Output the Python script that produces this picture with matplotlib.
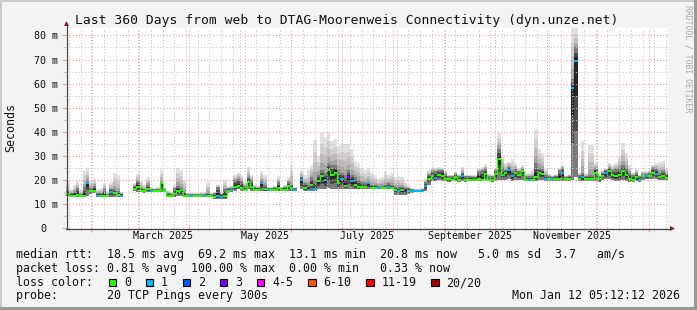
import numpy as np
import pandas as pd
import matplotlib

matplotlib.use("Agg")
import matplotlib.pyplot as plt
import matplotlib.dates as mdates
import matplotlib.transforms as mtransforms
from matplotlib.patches import Rectangle, Polygon
from matplotlib.lines import Line2D

nan = float("nan")

W, H = 697, 310
START = pd.Timestamp("2025-01-17 05:12:12")
END = pd.Timestamp("2026-01-12 05:12:12")
STEP_DAYS = 2  # one sample per two days

# median rtt (ms), one value per 2-day column
median_ms = [
    14.0, 13.5, 13.5, 13.6, 13.2, 13.3, 18.8, 15.2, 15.5, 13.5,
    13.3, 13.5, 13.3, 15.0, 14.5, 13.6, 13.5, nan, nan, nan,
    16.3, 17.0, 15.3, 15.2, 16.0, 15.3, 15.3, 15.3, 18.5, 15.3,
    13.5, 13.4, 14.0, 15.5, 15.8, 13.5, 13.4, 13.4, 13.4, 13.4,
    13.3, 13.2, 13.3, 13.3, 13.0, 13.5, 12.8, 13.2, 15.5, 15.8,
    17.2, 17.6, 16.8, 15.8, 19.3, 17.0, 15.9, 15.9, 18.5, 16.0,
    15.9, 15.9, 15.9, 16.5, 15.9, 15.9, 17.5, 16.8, 15.9, nan,
    20.0, 16.7, 15.9, 18.0, 16.0, 19.5, 21.4, 20.0, 24.2, 22.0,
    23.0, 18.7, 20.5, 17.5, 21.2, 19.5, 17.8, 17.0, 17.0, 17.0,
    18.5, 16.7, 16.7, 16.5, 16.5, 16.7, 17.2, 16.5, 15.8, 15.5,
    15.6, 15.5, 15.3, 15.3, 15.3, 15.3, 15.4, 17.5, 20.5, 21.5,
    20.8, 22.0, 21.8, 20.5, 20.2, 20.0, 21.0, 20.0, 21.5, 20.0,
    20.0, 20.0, 20.0, 20.5, 20.0, 22.4, 20.0, 20.0, 22.5, 28.6,
    22.0, 22.8, 24.0, 21.5, 22.8, 22.0, 23.5, 20.0, 20.0, 20.0,
    21.0, 22.8, 22.5, 20.3, 20.3, 20.3, 20.3, 20.3, 22.8, 20.3,
    20.3, 58.0, 69.2, 20.3, 21.0, 20.3, 20.3, 20.3, 23.0, 20.3,
    21.5, 22.7, 23.5, 22.0, 21.5, 22.0, 23.5, 22.0, 20.5, 20.0,
    21.0, 20.0, 21.5, 21.5, 21.7, 22.8, 22.5, 21.0, 21.5, 20.8,
]

# smoke: lowest ping, top of the dense (dark) part, highest ping (ms)
smoke_lo_ms = [
    13.3, 13.0, 13.0, 13.0, 12.8, 12.8, 13.5, 14.0, 14.5, 13.0,
    12.8, 13.0, 12.8, 13.0, 13.0, 13.0, 13.0, nan, nan, nan,
    15.5, 15.0, 14.8, 14.7, 14.8, 14.8, 14.8, 14.8, 15.0, 14.8,
    13.0, 13.0, 13.0, 13.2, 13.2, 13.0, 13.0, 13.0, 13.0, 13.0,
    12.9, 12.8, 12.9, 12.9, 12.0, 12.0, 12.0, 12.0, 14.5, 15.0,
    15.5, 16.0, 15.5, 15.2, 16.0, 15.5, 15.3, 15.3, 15.5, 15.3,
    15.3, 15.3, 15.3, 15.3, 15.3, 15.3, 15.5, 15.5, 15.3, nan,
    16.0, 15.5, 15.5, 15.5, 15.5, 16.0, 16.0, 16.0, 16.5, 16.0,
    16.0, 16.0, 16.0, 16.0, 16.0, 16.0, 16.0, 16.0, 16.3, 16.3,
    16.3, 16.0, 16.0, 16.0, 16.0, 16.0, 16.0, 16.0, 13.8, 13.8,
    13.8, 13.8, 14.0, 14.5, 14.8, 14.8, 14.8, 15.3, 18.0, 19.5,
    19.5, 20.0, 19.5, 19.5, 19.3, 19.5, 19.5, 19.3, 19.5, 19.3,
    19.5, 19.5, 19.5, 19.5, 19.5, 20.0, 19.5, 19.0, 19.5, 20.0,
    20.0, 20.0, 20.5, 19.5, 20.0, 20.0, 20.0, 19.5, 19.5, 19.5,
    19.5, 20.0, 20.0, 19.5, 19.5, 19.5, 19.5, 19.5, 19.5, 19.5,
    19.5, 20.0, 21.0, 19.5, 19.5, 19.5, 19.5, 19.5, 19.5, 19.0,
    20.0, 20.5, 20.5, 20.0, 19.5, 19.5, 20.0, 19.5, 19.0, 19.0,
    19.5, 19.0, 20.0, 20.5, 20.5, 20.5, 20.5, 20.0, 20.0, 20.0,
]

smoke_mid_ms = [
    15.5, 14.5, 15.0, 16.5, 14.0, 17.0, 19.5, 16.5, 17.5, 14.5,
    14.5, 16.0, 14.0, 16.0, 16.0, 15.5, 14.2, nan, nan, nan,
    17.5, 19.5, 16.5, 16.0, 18.0, 16.2, 16.0, 16.2, 19.0, 16.2,
    14.5, 14.2, 16.5, 17.5, 16.7, 15.0, 14.0, 14.0, 14.0, 14.0,
    14.0, 14.0, 14.5, 14.0, 14.5, 17.0, 14.0, 16.0, 16.5, 16.8,
    20.0, 20.5, 19.5, 17.5, 21.0, 20.0, 17.0, 16.8, 19.5, 18.0,
    16.5, 16.5, 16.8, 19.0, 16.5, 17.0, 19.0, 18.0, 16.5, nan,
    21.0, 18.5, 18.0, 21.0, 20.0, 22.0, 24.0, 23.0, 27.0, 26.0,
    26.0, 24.0, 23.0, 22.0, 24.0, 22.0, 21.0, 20.0, 19.0, 18.5,
    19.0, 18.0, 18.0, 17.5, 17.5, 18.0, 18.5, 18.0, 17.0, 17.0,
    17.0, 16.5, 16.5, 16.0, 15.8, 15.8, 16.0, 19.0, 22.0, 23.5,
    23.5, 24.0, 24.0, 22.5, 21.5, 21.5, 22.5, 21.5, 23.0, 21.5,
    21.5, 21.3, 21.3, 23.5, 24.0, 24.5, 21.5, 21.5, 24.0, 33.0,
    25.0, 24.0, 25.5, 23.5, 24.5, 23.5, 24.5, 21.5, 21.5, 21.5,
    27.0, 25.0, 24.5, 22.0, 21.5, 21.3, 21.5, 24.0, 25.0, 21.3,
    21.5, 62.0, 75.0, 22.0, 23.0, 21.5, 22.0, 22.0, 25.0, 21.5,
    23.0, 24.0, 25.0, 24.0, 24.5, 25.0, 26.0, 25.0, 23.0, 22.0,
    23.0, 21.5, 22.5, 22.5, 23.0, 25.0, 24.5, 23.0, 23.5, 22.5,
]

smoke_hi_ms = [
    19.5, 16.0, 18.0, 19.5, 16.0, 24.0, 25.0, 19.5, 20.5, 16.0,
    16.5, 18.8, 15.5, 19.0, 23.0, 22.0, 15.0, nan, nan, nan,
    18.5, 22.5, 19.5, 18.0, 21.0, 17.0, 16.5, 17.0, 24.0, 17.0,
    15.5, 15.0, 18.0, 25.0, 24.0, 20.0, 14.5, 14.5, 14.5, 14.5,
    15.0, 15.0, 19.0, 14.5, 15.0, 18.0, 15.5, 20.0, 17.0, 17.5,
    22.0, 23.0, 22.0, 19.0, 25.5, 22.0, 18.0, 17.5, 23.5, 22.0,
    17.0, 17.0, 17.5, 21.5, 17.0, 18.0, 21.0, 25.6, 17.0, nan,
    24.0, 22.0, 24.0, 26.0, 36.6, 30.0, 39.4, 38.0, 40.0, 36.0,
    37.0, 34.0, 35.0, 35.0, 35.0, 33.0, 28.0, 27.0, 24.5, 24.0,
    25.0, 23.0, 22.0, 20.5, 21.0, 23.5, 22.0, 23.0, 21.0, 21.5,
    21.0, 19.0, 18.0, 16.5, 16.3, 16.3, 16.5, 20.5, 24.0, 25.5,
    25.0, 25.5, 25.0, 23.5, 22.0, 22.0, 23.5, 22.5, 25.5, 22.0,
    22.0, 22.0, 22.0, 25.0, 25.5, 26.5, 22.5, 22.0, 25.0, 39.4,
    30.0, 27.0, 27.5, 28.5, 27.0, 25.0, 26.0, 23.0, 23.0, 24.0,
    41.0, 33.0, 31.0, 24.5, 22.5, 22.0, 22.5, 25.0, 26.0, 22.0,
    22.5, 83.1, 83.1, 23.0, 36.0, 23.0, 34.5, 34.5, 27.0, 22.0,
    24.0, 25.0, 27.0, 26.0, 27.0, 30.0, 35.3, 31.0, 26.0, 23.0,
    24.5, 22.0, 23.5, 23.5, 24.0, 26.0, 27.0, 27.6, 28.0, 25.0,
]

# loss class per column: 0 -> "0", 1 -> "1", 3 -> "3" ...
loss_class = [
    0, 0, 0, 0, 0, 0, 1, 0, 0, 1, 0, 0, 0, 1, 0, 0, 1, 0, 0, 0,
    0, 0, 0, 0, 0, 1, 0, 0, 0, 0, 0, 0, 0, 0, 0, 0, 0, 1, 0, 0,
    0, 1, 0, 0, 0, 1, 1, 0, 0, 1, 0, 0, 0, 0, 0, 0, 0, 0, 1, 0,
    1, 0, 0, 0, 0, 0, 0, 0, 1, 0, 1, 0, 1, 0, 1, 0, 0, 1, 0, 0,
    0, 0, 1, 0, 3, 1, 0, 0, 0, 0, 1, 0, 0, 1, 0, 0, 1, 0, 0, 1,
    0, 3, 0, 1, 1, 1, 1, 1, 0, 0, 1, 0, 0, 0, 0, 0, 0, 0, 1, 0,
    0, 0, 0, 0, 0, 0, 0, 0, 0, 0, 0, 0, 1, 1, 0, 0, 0, 0, 1, 0,
    0, 0, 0, 1, 0, 1, 0, 0, 1, 0, 0, 1, 1, 0, 1, 0, 0, 0, 0, 0,
    0, 1, 0, 0, 0, 0, 0, 0, 0, 0, 0, 1, 0, 1, 0, 0, 1, 0, 0, 0,
]

LOSS_LABELS = ["0", "1", "2", "3", "4-5", "6-10", "11-19", "20/20"]
LOSS_COLORS = ["#26ff00", "#00b8ff", "#0059ff", "#7e00ff",
               "#ff00ff", "#ff5500", "#ff0000", "#a10000"]

MONTH_LABELS = ["March 2025", "May 2025", "July 2025",
                "September 2025", "November 2025"]
MONTH_LABEL_DATES = ["2025-03-16", "2025-05-16", "2025-07-16",
                     "2025-09-16", "2025-11-16"]

LEGEND_ROWS = [
    "median rtt:  18.5 ms avg  69.2 ms max  13.1 ms min  20.8 ms now   5.0 ms sd  3.7   am/s",
    "packet loss: 0.81 % avg  100.00 % max  0.00 % min   0.33 % now",
    "loss color:",
    "probe:       20 TCP Pings every 300s",
]

plt.rcParams["font.family"] = "DejaVu Sans Mono"

fig = plt.figure(figsize=(W / 100, H / 100), dpi=100, facecolor="#f3f3f3")
# pixel coordinates, origin top-left
pix = mtransforms.Affine2D().scale(1 / W, -1 / H).translate(0, 1) + fig.transFigure

ax = fig.add_axes([66 / W, 1 - 228 / H, 602 / W, 200 / H])
ax.set_facecolor("white")
ax.set_xlim(mdates.date2num(START), mdates.date2num(END))
ax.set_ylim(0, 83.1)

med = np.array(median_ms)
lo = np.array(smoke_lo_ms)
mid = np.array(smoke_mid_ms)
hi = np.array(smoke_hi_ms)
loss = np.array(loss_class)
x = mdates.date2num(START) + STEP_DAYS * np.arange(len(med))
ok = ~np.isnan(med)

# contiguous runs of data
runs = []
cur = []
for i in range(len(med)):
    if ok[i]:
        cur.append(i)
    elif cur:
        runs.append(cur)
        cur = []
if cur:
    runs.append(cur)


def band(idx, bottom, top, color):
    xe = np.append(x[idx], x[idx[-1]] + STEP_DAYS)
    b = np.append(bottom[idx], bottom[idx[-1]])
    t = np.append(top[idx], top[idx[-1]])
    ax.fill_between(xe, b, t, step="post", color=color, linewidth=0, zorder=1)


LIGHT = ["#e2e2e2", "#d0d0d0", "#bcbcbc", "#a4a4a4"]
DARK = ["#7a7a7a", "#4a4a4a", "#242424"]
for r in runs:
    idx = np.array(r)
    for f, c in zip([1.0, 0.7, 0.45, 0.2], LIGHT):
        band(idx, lo, mid + (hi - mid) * f, c)
    for f, c in zip([1.0, 0.6, 0.3], DARK):
        band(idx, med - (med - lo) * f, med + (mid - med) * f, c)

# median line coloured by loss; only loss-free neighbours get joined
for i in np.flatnonzero(ok):
    col = LOSS_COLORS[loss[i]]
    ax.hlines(med[i], x[i], x[i] + STEP_DAYS, color=col, lw=1.4, zorder=3)
    if i + 1 < len(med) and ok[i + 1] and loss[i] == 0 and loss[i + 1] == 0:
        ax.vlines(x[i] + STEP_DAYS, med[i], med[i + 1], color=col, lw=0.9, zorder=3)

# grid
ax.set_yticks(range(0, 81, 10))
ax.set_yticks(range(5, 81, 10), minor=True)
ax.set_yticklabels(["0"] + [f"{v} m" for v in range(10, 81, 10)], fontsize=7.2)
ax.xaxis.set_major_locator(mdates.MonthLocator())
ax.xaxis.set_minor_locator(mdates.WeekdayLocator(byweekday=mdates.SU))
ax.tick_params(axis="x", which="both", labelbottom=False)
ax.tick_params(which="major", length=3, color="#f19a9a", width=0.8)
ax.tick_params(which="minor", length=2, color="#c8c8c8", width=0.8)
ax.tick_params(axis="y", which="major", pad=2.5, labelcolor="#111111")
ax.set_axisbelow(False)
ax.grid(which="major", color="#f19a9a", linestyle=(0, (1, 2)), linewidth=0.75)
ax.grid(which="minor", color="#c4c4c4", linestyle=(0, (1, 2)), linewidth=0.75)
for s in ax.spines.values():
    s.set_visible(False)

# "0" label sits under the digits of the other labels
zero = ax.get_yticklabels()[0]
zero.set_transform(zero.get_transform()
                   + mtransforms.ScaledTranslation(-11.6 / 100, 0, fig.dpi_scale_trans))

for d, s in zip(MONTH_LABEL_DATES, MONTH_LABELS):
    ax.text(mdates.date2num(pd.Timestamp(d)), -0.04, s, transform=ax.get_xaxis_transform(),
            ha="center", va="center", fontsize=7.2, color="#111111")

# axes with arrows
fig.add_artist(Line2D([66.5, 66.5], [228.5, 25], transform=pix, color="#444444", lw=0.9))
fig.add_artist(Line2D([66, 671], [228.5, 228.5], transform=pix, color="#444444", lw=0.9))
fig.add_artist(Polygon([[64, 26], [69, 26], [66.5, 21]], closed=True, transform=pix,
                       color="#8b1a1a", lw=0))
fig.add_artist(Polygon([[670, 226], [670, 231], [675, 228.5]], closed=True, transform=pix,
                       color="#8b1a1a", lw=0))

# titles
fig.text(346.4 / W, 1 - 24 / H, "Last 360 Days from web to DTAG-Moorenweis Connectivity (dyn.unze.net)",
         ha="center", va="baseline", fontsize=9.4, color="#111111")
fig.text(10.5 / W, 1 - 128 / H, "Seconds", rotation=90, ha="center", va="center",
         fontsize=8.4, color="#111111")
fig.text(688 / W, 1 - 59 / H, "RRDTOOL / TOBI OETIKER", rotation=270, ha="center",
         va="center", fontsize=5.9, color="#a8a8a8")

# legend
for k, row in enumerate(LEGEND_ROWS):
    fig.text(16 / W, 1 - (258 + 13.8 * k) / H, row, ha="left", va="baseline",
             fontsize=8.4, color="#111111")
fig.text(680 / W, 1 - 299.4 / H, "Mon Jan 12 05:12:12 2026", ha="right", va="baseline",
         fontsize=8.4, color="#111111")

bx = 109.0
for lab, col in zip(LOSS_LABELS, LOSS_COLORS):
    fig.add_artist(Rectangle((bx, 278.5), 7.3, 7.3, transform=pix, facecolor=col,
                             edgecolor="black", lw=0.8))
    fig.text((bx + 15) / W, 1 - 286 / H, lab, ha="left", va="baseline", fontsize=8.4,
             color="#111111")
    bx += 30 + 7.03 * len(lab)

# 3d frame
fig.add_artist(Rectangle((0, 0), W, 2, transform=pix, color="#cbcbcb", lw=0))
fig.add_artist(Rectangle((0, 0), 2, H, transform=pix, color="#cbcbcb", lw=0))
fig.add_artist(Rectangle((0, H - 3), W, 3, transform=pix, color="#999999", lw=0))
fig.add_artist(Rectangle((W - 3, 0), 3, H, transform=pix, color="#999999", lw=0))

fig.savefig("out.png", dpi=100, facecolor=fig.get_facecolor())
